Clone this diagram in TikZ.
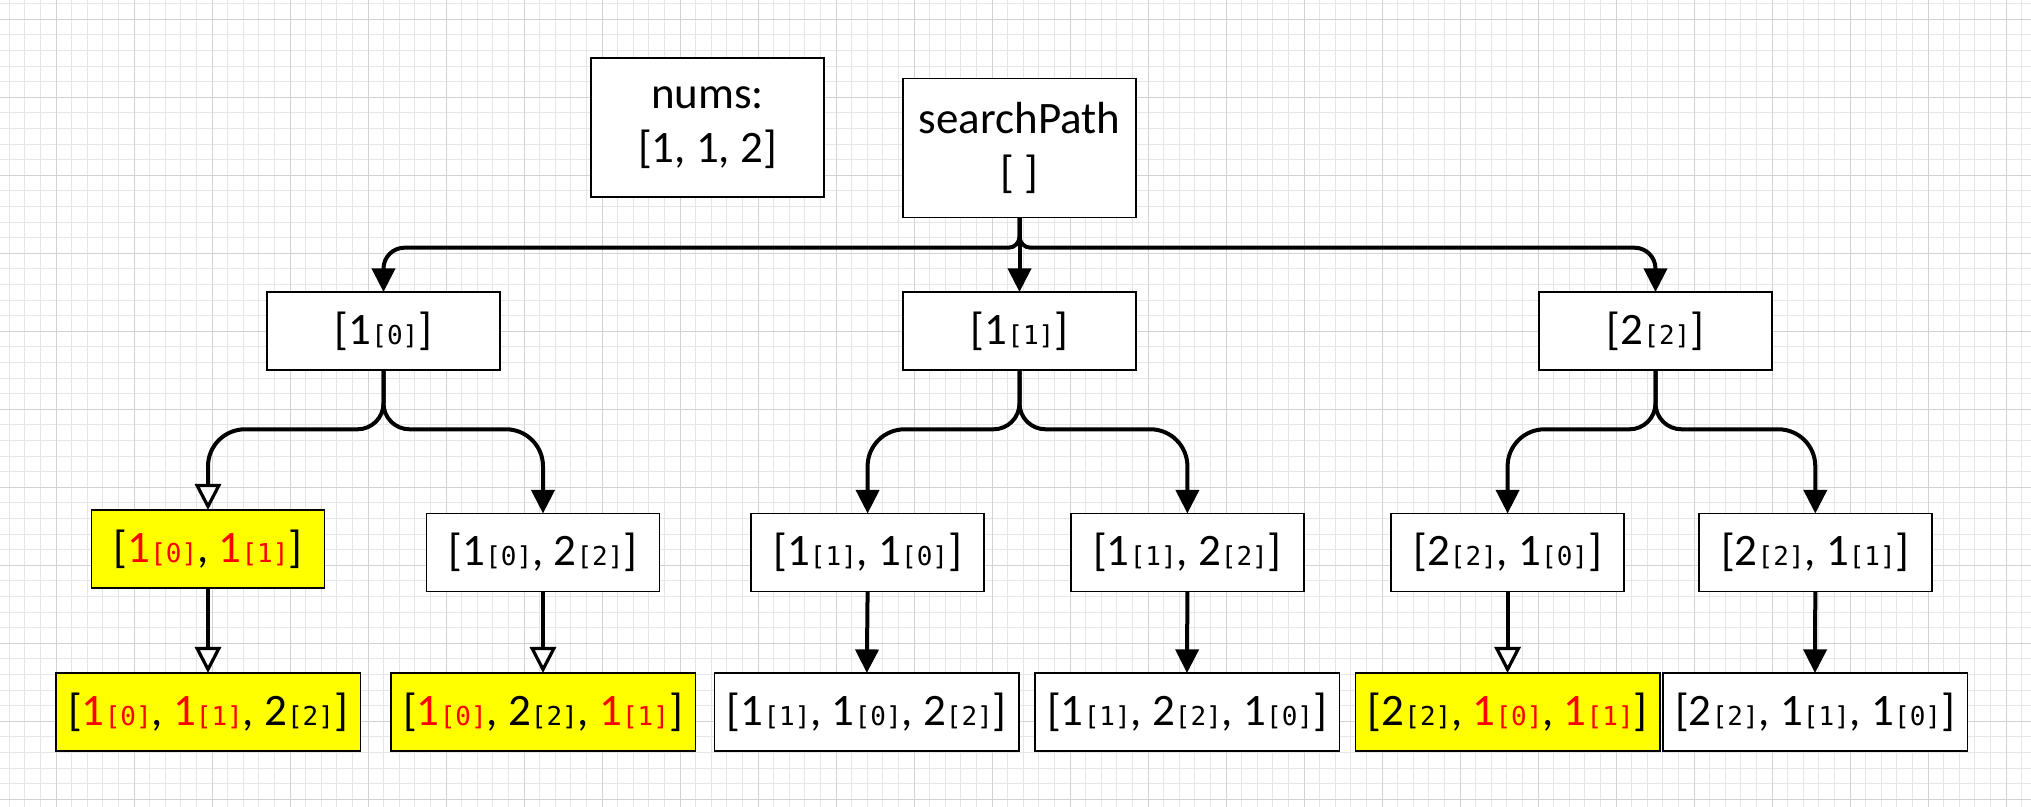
\documentclass[tikz,border=0pt]{standalone}
\usepackage{fontspec}
\setmainfont{Carlito}
\newfontfamily\monof{DejaVu Sans Mono}
\usetikzlibrary{arrows.meta}
\definecolor{gridminor}{HTML}{E6E6E6}
\definecolor{gridmajor}{HTML}{D2D2D2}
\definecolor{hl}{HTML}{FFFF00}
\definecolor{rd}{HTML}{FF0000}
\newcommand{\ix}[1]{{\fontsize{13}{15}\monof[#1]}}
\newcommand{\rv}[1]{\textcolor{rd}{#1}}
\tikzset{
  box/.style={draw=black, line width=0.75pt, fill=white, inner sep=0pt, outer sep=0pt,
              font=\fontsize{22.5}{27}\selectfont, align=center},
  w1/.style={box, minimum width=116.5pt, minimum height=39pt},
  w3/.style={box, minimum width=152.25pt, minimum height=39pt},
  tall/.style={box, minimum width=116.5pt, minimum height=69.5pt},
  hit/.style={fill=hl},
  conn/.style={line width=2pt, -{Triangle[width=11.5pt,length=11.8pt]}},
  openconn/.style={line width=2pt, -{Triangle[open,width=13pt,length=13pt,line width=1.6pt,fill=white]}},
  gmin/.style={draw=gridminor, line width=0.5pt},
  gmaj/.style={draw=gridmajor, line width=0.5pt},
}
\begin{document}
\begin{tikzpicture}[x=0.5pt,y=-0.5pt]
\useasboundingbox (0,0) rectangle (2031,807);
\fill[white] (0,0) rectangle (2031,807);
% grid
\foreach \k in {0,...,129} {\draw[gmin] ({9.2+15.6*\k},0) -- ({9.2+15.6*\k},807);}
\foreach \k in {0,...,51} {\draw[gmin] (0,{3.7+15.6*\k}) -- (2031,{3.7+15.6*\k});}
\foreach \k in {0,...,25} {\draw[gmaj] ({56+78*\k},0) -- ({56+78*\k},807);}
\foreach \k in {0,...,10} {\draw[gmaj] (0,{19.3+78*\k}) -- (2031,{19.3+78*\k});}

% branch levels
\coordinate (b1) at (0,247.7);
\coordinate (b2) at (0,429.3);

% nodes
\node[tall] (nums) at (707.5,127.5) {nums:\\{}[1, 1, 2]};
\node[tall] (sp) at (1019.5,148) {searchPath\\{}[ ]};

\node[w1] (a1) at (383.5,331) {[1\ix{0}]};
\node[w1] (a2) at (1019.5,331) {[1\ix{1}]};
\node[w1] (a3) at (1655.5,331) {[2\ix{2}]};

\node[w1,hit] (c1) at (208,549) {[\rv{1\ix{0}}, \rv{1\ix{1}}]};
\node[w1] (c2) at (543,552.5) {[1\ix{0}, 2\ix{2}]};
\node[w1] (c3) at (867.6,552.5) {[1\ix{1}, 1\ix{0}]};
\node[w1] (c4) at (1187.4,552.5) {[1\ix{1}, 2\ix{2}]};
\node[w1] (c5) at (1507.6,552.5) {[2\ix{2}, 1\ix{0}]};
\node[w1] (c6) at (1815.3,552.5) {[2\ix{2}, 1\ix{1}]};

\node[w3,hit] (d1) at (208,712) {[\rv{1\ix{0}}, \rv{1\ix{1}}, 2\ix{2}]};
\node[w3,hit] (d2) at (543,712) {[\rv{1\ix{0}}, 2\ix{2}, \rv{1\ix{1}}]};
\node[w3] (d3) at (866.8,712) {[1\ix{1}, 1\ix{0}, 2\ix{2}]};
\node[w3] (d4) at (1187,712) {[1\ix{1}, 2\ix{2}, 1\ix{0}]};
\node[w3,hit] (d5) at (1507.6,712) {[2\ix{2}, \rv{1\ix{0}}, \rv{1\ix{1}}]};
\node[w3] (d6) at (1815,712) {[2\ix{2}, 1\ix{1}, 1\ix{0}]};

% level 1 connectors
\draw[conn] (sp.south) [rounded corners=5.5pt] -- (sp.south |- b1) [rounded corners=10.5pt] -- (a1.north |- b1) -- (a1.north);
\draw[conn] (sp.south) -- (a2.north);
\draw[conn] (sp.south) [rounded corners=5.5pt] -- (sp.south |- b1) [rounded corners=10.5pt] -- (a3.north |- b1) -- (a3.north);

% level 2 connectors
\draw[openconn] (a1.south) [rounded corners=13pt] -- (a1.south |- b2) [rounded corners=18.5pt] -- (c1.north |- b2) -- (c1.north);
\draw[conn] (a1.south) [rounded corners=13pt] -- (a1.south |- b2) [rounded corners=18.5pt] -- (c2.north |- b2) -- (c2.north);
\draw[conn] (a2.south) [rounded corners=13pt] -- (a2.south |- b2) [rounded corners=18.5pt] -- (c3.north |- b2) -- (c3.north);
\draw[conn] (a2.south) [rounded corners=13pt] -- (a2.south |- b2) [rounded corners=18.5pt] -- (c4.north |- b2) -- (c4.north);
\draw[conn] (a3.south) [rounded corners=13pt] -- (a3.south |- b2) [rounded corners=18.5pt] -- (c5.north |- b2) -- (c5.north);
\draw[conn] (a3.south) [rounded corners=13pt] -- (a3.south |- b2) [rounded corners=18.5pt] -- (c6.north |- b2) -- (c6.north);

% level 3 connectors
\draw[openconn] (c1.south) -- (d1.north);
\draw[openconn] (c2.south) -- (d2.north);
\draw[conn] (c3.south) -- (d3.north);
\draw[conn] (c4.south) -- (d4.north);
\draw[openconn] (c5.south) -- (d5.north);
\draw[conn] (c6.south) -- (d6.north);
\end{tikzpicture}
\end{document}
